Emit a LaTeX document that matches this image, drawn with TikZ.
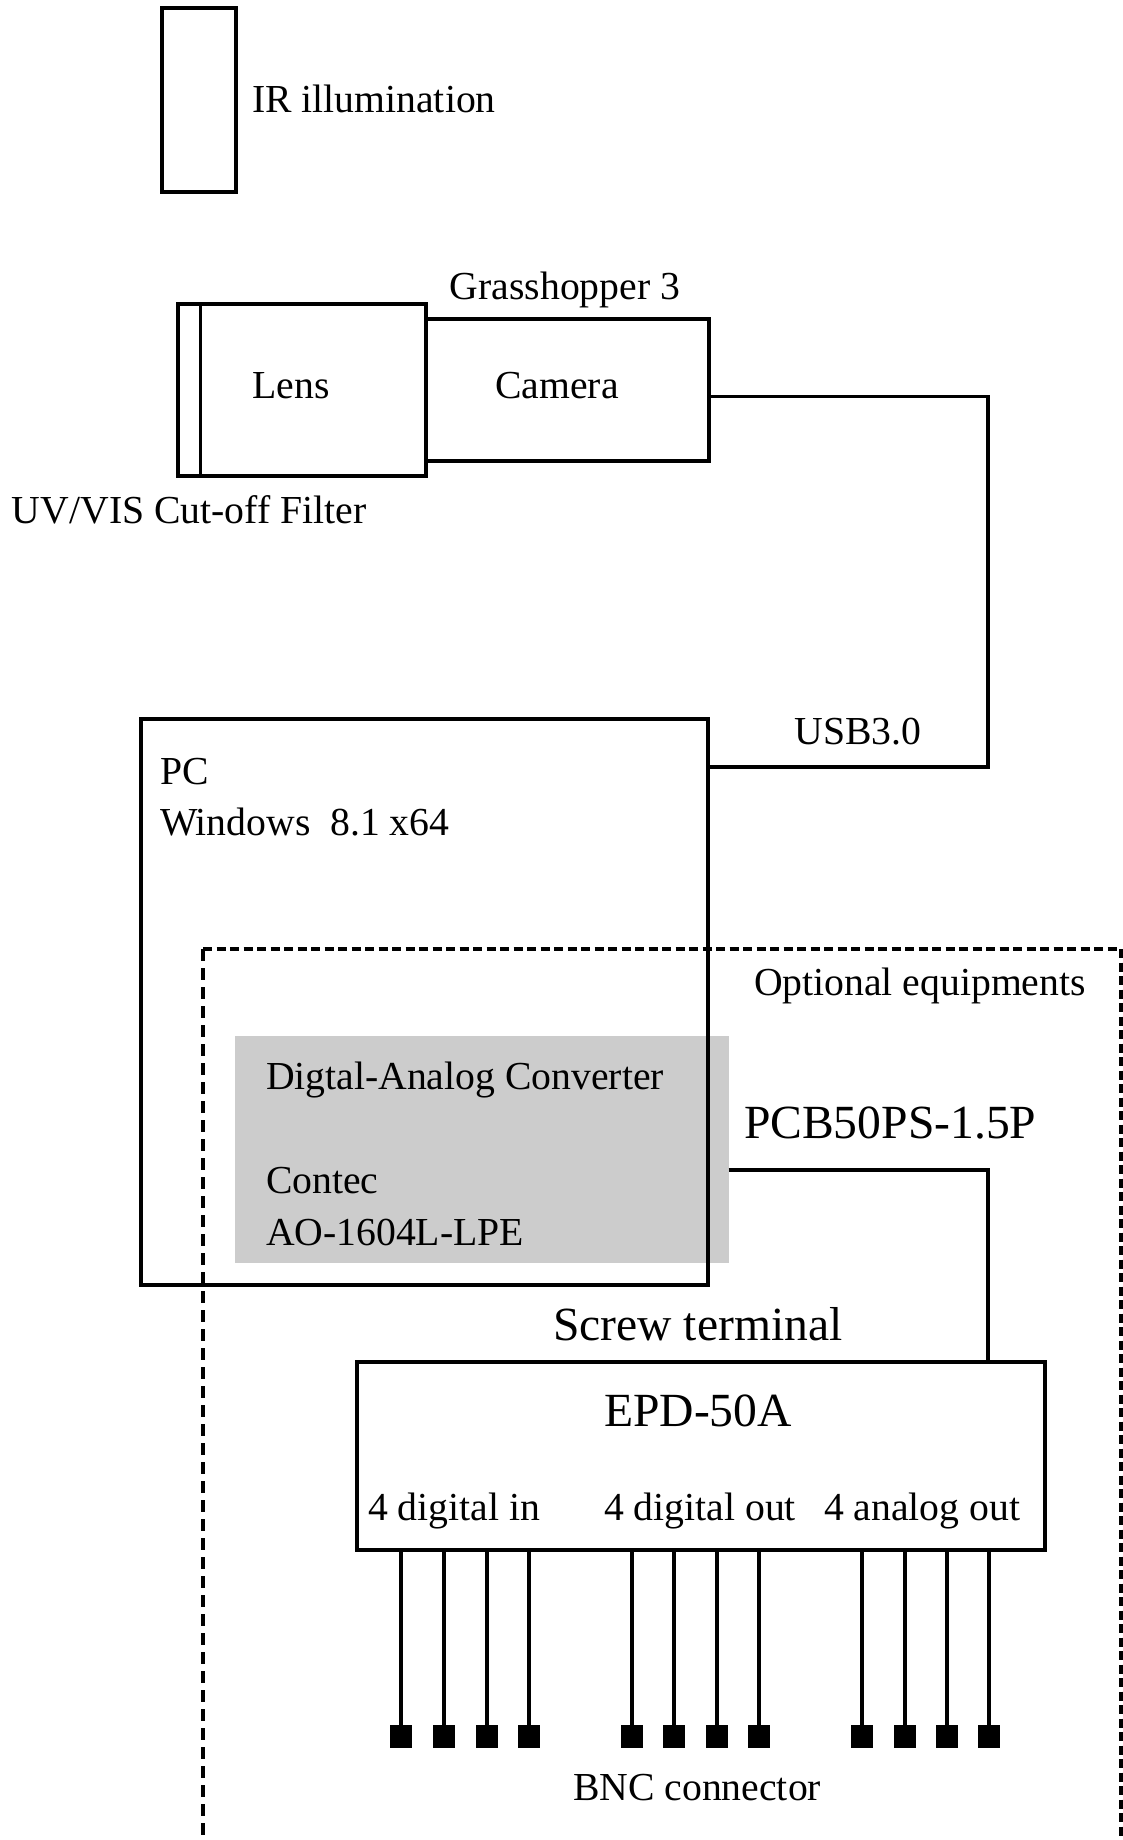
\documentclass[tikz,border=0pt]{standalone}
\usepackage{fontspec}
\setmainfont{Liberation Serif}
\usetikzlibrary{calc}
\begin{document}
\begin{tikzpicture}[x=1pt,y=-1pt,
  box/.style={draw, line width=3.3pt, inner sep=0pt, outer sep=0pt, rectangle},
  wire/.style={line width=3.3pt},
  lab/.style={inner sep=0pt, outer sep=0pt, font=\fontsize{39.7}{46}\selectfont},
  biglab/.style={inner sep=0pt, outer sep=0pt, font=\fontsize{47.6}{55}\selectfont},
  bnc/.style={fill, inner sep=0pt, outer sep=0pt, minimum width=22pt, minimum height=23pt},
  optline/.style={line width=3.5pt, dash pattern=on 9pt off 4.5pt}]
\useasboundingbox (0,0) rectangle (1123,1840);
\clip (0,0) rectangle (1123,1840);

% boxes
\node[box, minimum width=74pt, minimum height=184pt] (ir) at (199,100) {};
\node[box, minimum width=22.6pt, minimum height=172pt] (filter) at (189.3,390) {};
\node[box, minimum width=225.4pt, minimum height=172pt] (lens) at (313.3,390) {};
\node[box, minimum width=283pt, minimum height=142pt] (cam) at (567.5,390) {};
\node[fill=black!20, inner sep=0pt, outer sep=0pt, minimum width=494pt, minimum height=227pt] (dac) at (481.5,1149.5) {};
\node[box, minimum width=567pt, minimum height=566pt] (pc) at (424.5,1002) {};
\node[box, minimum width=688pt, minimum height=188pt] (epd) at (701,1456) {};

% optional equipment frame
\draw[optline] (203,949) -- (1121,949) -- (1121,1880);
\draw[optline, dash pattern=on 12pt off 7pt] (203,949) -- (203,1880);

% connectors
\coordinate (u1) at (988,396.6);
\coordinate (u2) at (988,767);
\draw[wire] (cam.east |- u1) -- (u1) -- (u2) -- (pc.east |- u2);
\coordinate (p1) at (988,1170);
\draw[wire] (dac.east |- p1) -- (p1) -- (epd.north -| p1);

\foreach \x [count=\i] in {401,444,487,529,632,674,717,759,862,905,947,989}{
  \node[bnc] (b\i) at (\x,1736) {};
  \draw[wire] (epd.south -| b\i) -- (b\i.north);
}

% labels
\node[lab, anchor=base west] (irl) at (252,112) {IR illumination};
\node[lab, anchor=base] (gl) at (565,299) {Grasshopper 3};
\node[lab, anchor=base] (ll) at (291,398) {Lens};
\node[lab, anchor=base] (cl) at (557,398) {Camera};
\node[lab, anchor=base west] (uvl) at (12,523) {UV/VIS Cut-off Filter};
\node[lab, anchor=base] (usbl) at (858,744) {USB3.0};
\node[lab, anchor=base west] (pcl) at (160,784) {PC};
\node[lab, anchor=base west] (winl) at (160,835) {Windows\ \ 8.1 x64};
\node[lab, anchor=base west] (optl) at (754,995) {Optional equipments};
\node[lab, anchor=base west] (dacl1) at (266,1089) {Digtal-Analog Converter};
\node[lab, anchor=base west] (dacl2) at (266,1193) {Contec};
\node[lab, anchor=base west] (dacl3) at (266,1245) {AO-1604L-LPE};
\node[biglab, anchor=base west] (pcbl) at (744,1138) {PCB50PS-1.5P};
\node[biglab, anchor=base west] (scl) at (553,1340) {Screw terminal};
\node[biglab, anchor=base] (epdl) at (698,1426) {EPD-50A};
\node[lab, anchor=base west] (dinl) at (368,1520) {4 digital in};
\node[lab, anchor=base west] (doutl) at (604,1520) {4 digital out};
\node[lab, anchor=base west] (aoutl) at (824,1520) {4 analog out};
\node[lab, anchor=base west] (bncl) at (573,1800) {BNC connector};
\end{tikzpicture}
\end{document}
